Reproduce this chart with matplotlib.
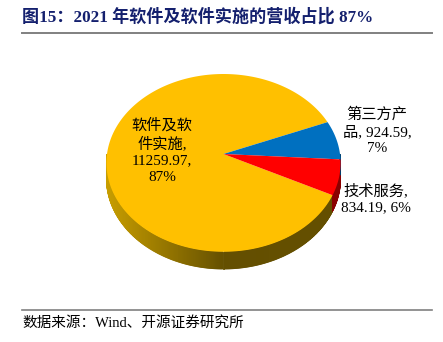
import numpy as np
import matplotlib.pyplot as plt
from matplotlib.patches import Polygon

# data
names = ['软件及软件实施', '第三方产品', '技术服务']
values = [11259.97, 924.59, 834.19]
pct = [87, 7, 6]  # as shown on the chart
colors = ['#FFC000', '#0070C0', '#FF0000']
side_colors = [None, '#003d6b', '#8a0000']

title = '图15：2021 年软件及软件实施的营收占比 87%'
source = '数据来源：Wind、开源证券研究所'

fam = ['Liberation Serif', 'Noto Sans CJK SC']

# pie geometry (pixels)
cx, cy = 223.5, 154
a, b, k = 116.5, 88, 0.1
depth = 15.5
start = -3.5  # boundary between blue and red, degrees


def proj(t, dz=0):
    s = 1 + k*np.sin(t)
    return cx + a*np.cos(t)/s, cy - b*np.sin(t)/s + dz/s


fig = plt.figure(figsize=(4.43, 3.42), dpi=100)
ax = fig.add_axes([0, 0, 1, 1])
ax.set_xlim(0, 443)
ax.set_ylim(342, 0)
ax.axis('off')

vals = np.array(values)
frac = vals/vals.sum()

# wedge angle ranges (deg): blue ccw from start, red cw from start, yellow rest
blue = (start, start + frac[1]*360)
red = (start - frac[2]*360, start)
yellow = (blue[1], red[0] + 360)
ranges = [yellow, blue, red]

# side band (front half)
ts = np.linspace(180, 360, 400)
for t0, t1 in zip(ts[:-1], ts[1:]):
    tm = (t0 + t1)/2
    tmn = ((tm - start) % 360) + start
    if red[0] <= tmn - 360 <= red[1] or red[0] <= tmn <= red[1]:
        c = side_colors[2]
    elif blue[0] <= tmn <= blue[1]:
        c = side_colors[1]
    else:
        x = proj(np.deg2rad(tm))[0]
        f = np.clip((x - 107)/(225 - 107), 0, 1)
        c0 = np.array([200, 158, 0])/255
        c1 = np.array([100, 79, 0])/255
        c = tuple(c0 + (c1 - c0)*f)
    r0, r1 = np.deg2rad(t0), np.deg2rad(t1)
    pts = [proj(r0), proj(r1), proj(r1, depth), proj(r0, depth)]
    ax.add_patch(Polygon(pts, closed=True, facecolor=c, edgecolor=c, lw=0.6, zorder=1))

# top face wedges
for (t0, t1), col in zip(ranges, colors):
    tt = np.deg2rad(np.linspace(t0, t1, 200))
    xs, ys = proj(tt)
    pts = [(cx, cy)] + list(zip(xs, ys))
    ax.add_patch(Polygon(pts, closed=True, facecolor=col, edgecolor='none', zorder=2))

# labels
lab0 = f"{names[0][:4]}\n{names[0][4:]},\n{values[0]:.2f},\n{pct[0]}%"
lab1 = f"{names[1][:4]}\n{names[1][4:]}, {values[1]:.2f},\n{pct[1]}%"
lab2 = f"{names[2]},\n{values[2]:.2f}, {pct[2]}%"
kw = dict(family=fam, fontsize=11, ha='center', va='center', linespacing=1.3, zorder=3)
ax.text(162, 151, lab0, **kw)
ax.text(377, 131, lab1, **kw)
ax.text(376, 199, lab2, **kw)

# title and source
ax.text(22, 17, title, family=fam, fontsize=12.3, fontweight='bold', color='#14206e',
        ha='left', va='center')
ax.plot([22, 432], [33, 33], color='#808080', lw=1.4)
ax.plot([22, 432], [310, 310], color='#808080', lw=1.2)
ax.text(22, 323, source, family=fam, fontsize=10.5, ha='left', va='center')

fig.savefig('out.png', dpi=100)
